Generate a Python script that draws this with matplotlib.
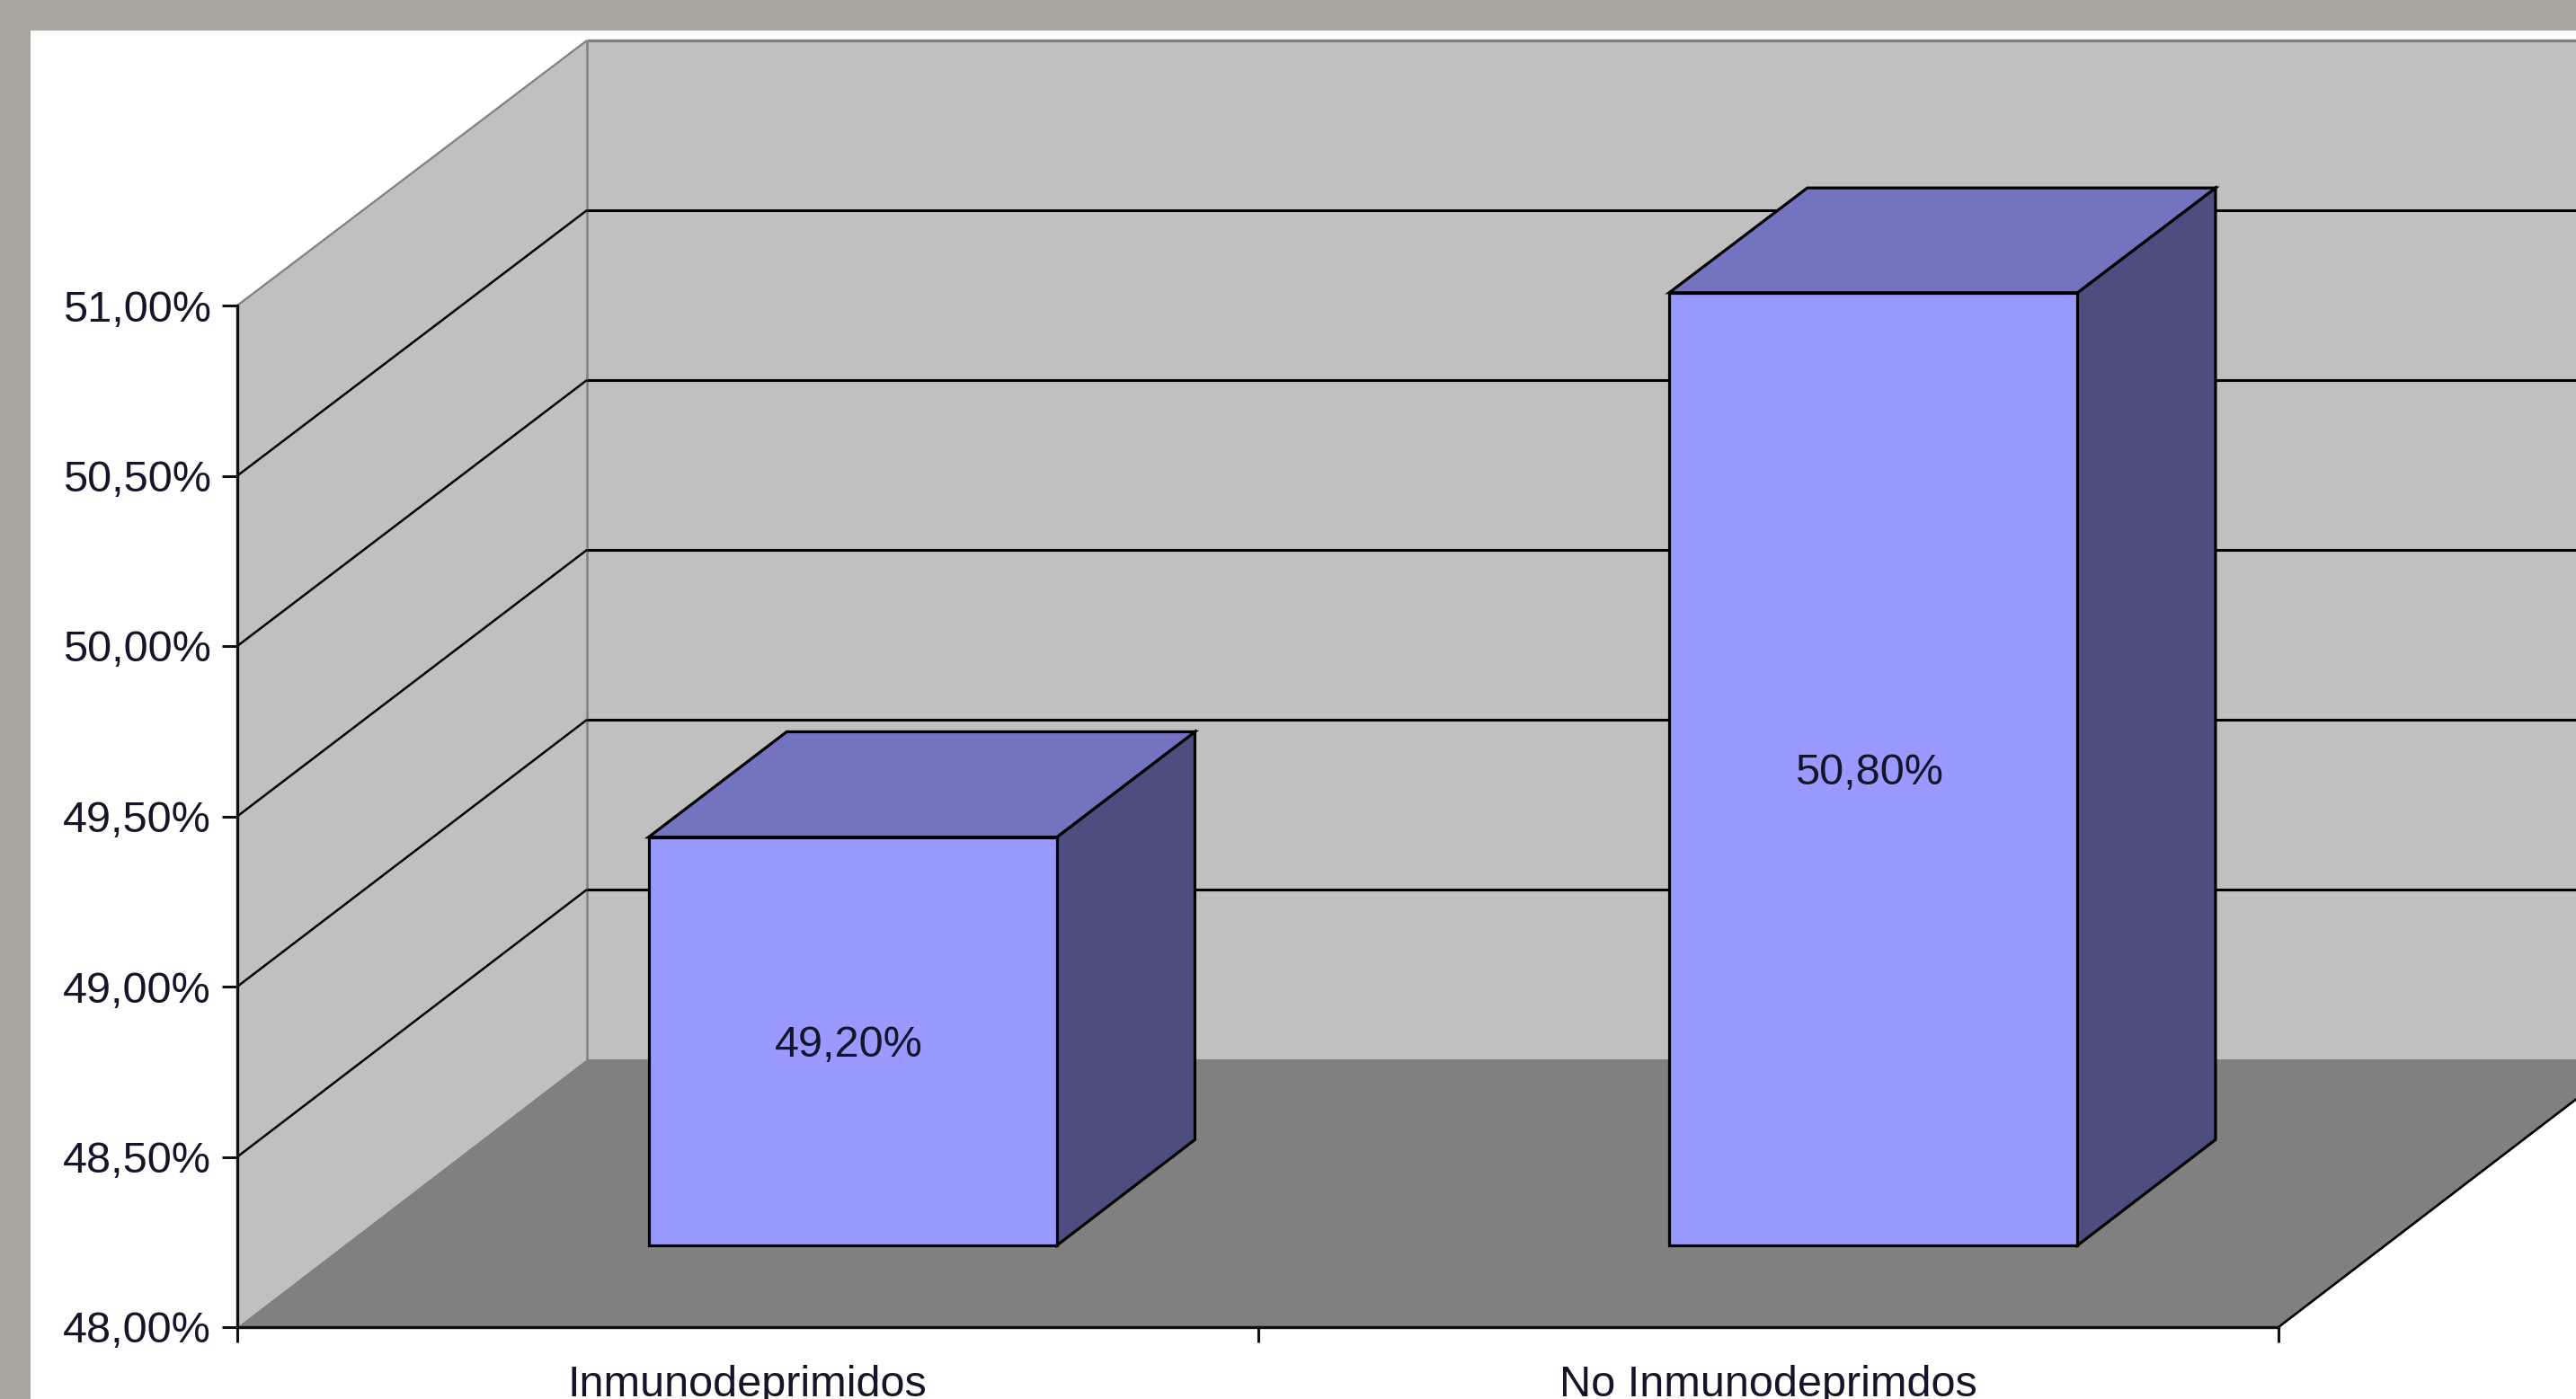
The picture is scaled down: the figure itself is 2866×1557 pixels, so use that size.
import matplotlib
matplotlib.use("Agg")
import matplotlib.pyplot as plt
from matplotlib.patches import Polygon, Rectangle

plt.rcParams['font.family'] = ['Liberation Sans', 'DejaVu Sans']

categories = ["Inmunodeprimidos", "No Inmunodeprimdos"]
values = [49.2, 50.8]
value_labels = ["49,20%", "50,80%"]
y_ticks = [48.0, 48.5, 49.0, 49.5, 50.0, 50.5, 51.0]
y_tick_labels = ["48,00%", "48,50%", "49,00%", "49,50%", "50,00%", "50,50%", "51,00%"]

W, H = 2866, 1557
fig = plt.figure(figsize=(W / 100, H / 100), dpi=100, facecolor="#A9A69E")
fig.patches.append(Rectangle((34 / W, 0), 1, 1 - 34 / H, transform=fig.transFigure,
                             facecolor="white", edgecolor="none", zorder=-10))

L, R, T, B = 264, 2535, 340, 1477
ax = fig.add_axes([L / W, (H - B) / H, (R - L) / W, (B - T) / H])
ax.patch.set_alpha(0)
ax.set_xlim(0, 2)
ax.set_ylim(48, 51)

DEPTH_X = 389 / ((R - L) / 2)
DEPTH_Y = 298 / ((B - T) / 3)
PERSP = 1 / ((B - T) / 3)


def proj(x, v, d):
    return x + d * DEPTH_X, v + d * (DEPTH_Y - PERSP * (v - 48))


def poly(points, **kw):
    ax.add_patch(Polygon([proj(*p) for p in points], closed=True, clip_on=False,
                         joinstyle="miter", **kw))


def line(p0, p1, color="black", lw=2.0, z=3):
    a, b = proj(*p0), proj(*p1)
    ax.plot([a[0], b[0]], [a[1], b[1]], color=color, lw=lw, clip_on=False, zorder=z,
            solid_capstyle="butt")


# walls and floor
poly([(0, 48, 0), (0, 48, 1), (0, 51, 1), (0, 51, 0)], facecolor="#C0C0C0", edgecolor="none", zorder=1)
poly([(0, 48, 1), (2.2, 48, 1), (2.2, 51, 1), (0, 51, 1)], facecolor="#C0C0C0", edgecolor="none", zorder=1)
poly([(0, 48, 0), (2, 48, 0), (2, 48, 1), (0, 48, 1)], facecolor="#808080", edgecolor="none", zorder=2)

# wall edges
line((0, 51, 0), (0, 51, 1), color="#808080", lw=1.6)
line((0, 48, 1), (0, 51, 1), color="#808080", lw=1.8)
line((0, 51, 1), (2.2, 51, 1), color="#808080", lw=2.4)

# gridlines
for t in y_ticks[1:-1]:
    line((0, t, 0), (0, t, 1), lw=1.8)
    line((0, t, 1), (2.2, t, 1), lw=2.2)

# floor right edge
line((2, 48, 0), (2, 48, 1), lw=1.9)

# bars
BAR_W = 0.4
BAR_SHIFT = -0.0015
D0, D1 = 0.305, 0.70
EDGE = dict(edgecolor="black", linewidth=2.3, zorder=5)
for i, (v, lab) in enumerate(zip(values, value_labels)):
    xc = i + 0.5 + BAR_SHIFT
    x0, x1 = xc - BAR_W / 2, xc + BAR_W / 2
    poly([(x1, 48, D0), (x1, 48, D1), (x1, v, D1), (x1, v, D0)], facecolor="#4D4D80", **EDGE)
    poly([(x0, v, D0), (x1, v, D0), (x1, v, D1), (x0, v, D1)], facecolor="#7373BF", **EDGE)
    poly([(x0, 48, D0), (x1, 48, D0), (x1, v, D0), (x0, v, D0)], facecolor="#9999FF", **EDGE)
    cx, cy = proj(xc - 0.004, (48 + v) / 2 - 0.012, D0)
    ax.text(cx, cy, lab, ha="center", va="center", fontsize=35, color="#15152A", zorder=6)

# axes
for s in ("top", "right"):
    ax.spines[s].set_visible(False)
for s in ("left", "bottom"):
    ax.spines[s].set_linewidth(2.4)
    ax.spines[s].set_color("#101010")
    ax.spines[s].set_zorder(7)
ax.set_yticks(y_ticks)
ax.set_yticklabels(y_tick_labels, fontsize=35, color="#15152A")
ax.tick_params(axis="y", length=12, width=2.2, pad=9, color="#101010")
ax.set_xticks([0, 1, 2])
ax.set_xticklabels([])
ax.tick_params(axis="x", which="major", length=12, width=2.2, color="#101010")
ax.set_xticks([0.5, 1.5], minor=True)
ax.set_xticklabels(categories, minor=True, fontsize=35, color="#15152A")
ax.tick_params(axis="x", which="minor", length=0, pad=30)

fig.savefig("out.png", dpi=100, facecolor=fig.get_facecolor())
